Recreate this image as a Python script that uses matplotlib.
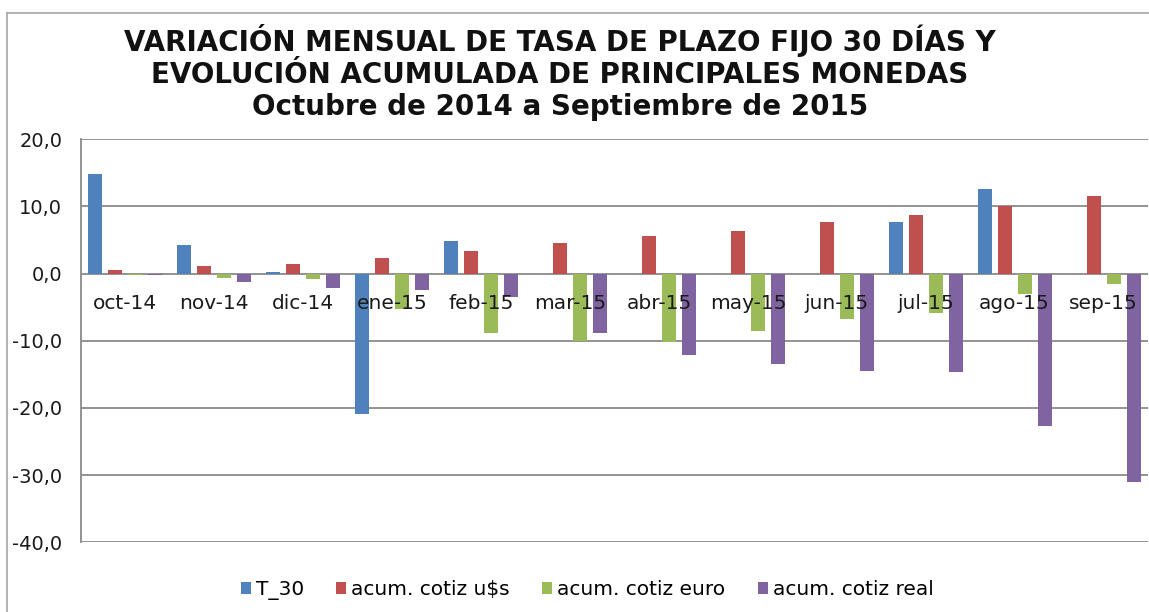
import matplotlib
matplotlib.use("Agg")
import matplotlib.pyplot as plt
from matplotlib.lines import Line2D
from matplotlib.patches import Patch
import numpy as np

plt.rcParams["font.family"] = ["DejaVu Sans"]

categories = ["oct-14", "nov-14", "dic-14", "ene-15", "feb-15", "mar-15",
              "abr-15", "may-15", "jun-15", "jul-15", "ago-15", "sep-15"]
t30 = [14.9, 4.3, 0.25, -20.9, 4.8, np.nan, np.nan, np.nan, np.nan, 7.7, 12.6, np.nan]
usd = [0.6, 1.2, 1.5, 2.4, 3.4, 4.5, 5.55, 6.4, 7.7, 8.7, 10.05, 11.5]
euro = [-0.2, -0.6, -0.8, -5.2, -8.8, -10.0, -10.2, -8.6, -6.8, -5.8, -3.1, -1.5]
real = [-0.2, -1.3, -2.1, -2.5, -3.5, -8.8, -12.05, -13.5, -14.5, -14.7, -22.7, -31.0]
series_names = ["T_30", "acum. cotiz u$s", "acum. cotiz euro", "acum. cotiz real"]
colors = ["#4F81BD", "#C0504D", "#9BBB59", "#8064A2"]
title_lines = ["VARIACIÓN MENSUAL DE TASA DE PLAZO FIJO 30 DÍAS Y",
               "EVOLUCIÓN ACUMULADA DE PRINCIPALES MONEDAS",
               "Octubre de 2014 a Septiembre de 2015"]
yticks = [20, 10, 0, -10, -20, -30, -40]

W, H = 1149, 612
fig = plt.figure(figsize=(W / 100, H / 100), dpi=100)
fig.patch.set_facecolor("white")

ax = fig.add_axes([81 / W, 1 - 542.3 / H, (1148 - 81) / W, (542.3 - 139.3) / H])

x = np.arange(len(categories))
pitch = 0.225
width = 0.157
all_series = [t30, usd, euro, real]
for j, (vals, col) in enumerate(zip(all_series, colors)):
    ax.bar(x + (j - 1.5) * pitch, vals, width=width, color=col, zorder=3,
           linewidth=0)

ax.set_xlim(-0.5, len(categories) - 0.5)
ax.set_ylim(-40, 20)
ax.set_yticks(yticks)
ax.set_yticklabels([f"{v:.1f}".replace(".", ",") for v in yticks],
                   fontsize=14, color="#1a1a1a")
ax.tick_params(axis="y", length=0, pad=13.5)
ax.set_xticks([])
for v in yticks:
    ax.axhline(v, color="#8a8a8a", linewidth=1.3, zorder=1)
for s in ["top", "right", "bottom"]:
    ax.spines[s].set_visible(False)
ax.spines["left"].set_color("#8a8a8a")
ax.spines["left"].set_linewidth(1.3)

for i, c in enumerate(categories):
    ax.text(i, -5.2, c, ha="center", va="baseline", fontsize=14.5,
            color="#1a1a1a", zorder=5)

fig.text(560 / W, 1 - 72.5 / H, "\n".join(title_lines), ha="center", va="center",
         fontsize=20, fontweight="bold", linespacing=1.17, color="#111111")

handles = [Patch(facecolor=c, edgecolor="none") for c in colors]
fig.legend(handles, series_names, loc="center", bbox_to_anchor=(587 / W, 1 - 590 / H),
           ncol=4, frameon=False, fontsize=14.5, handlelength=0.5, handleheight=0.55,
           handletextpad=0.25, columnspacing=1.6)

border_col = "#a6a6a6"
fig.add_artist(Line2D([7 / W, 1], [1 - 13 / H, 1 - 13 / H], color=border_col, linewidth=1.2))
fig.add_artist(Line2D([7 / W, 7 / W], [1 - 13 / H, 0], color=border_col, linewidth=1.2))

fig.savefig("out.png", dpi=100, facecolor="white")
